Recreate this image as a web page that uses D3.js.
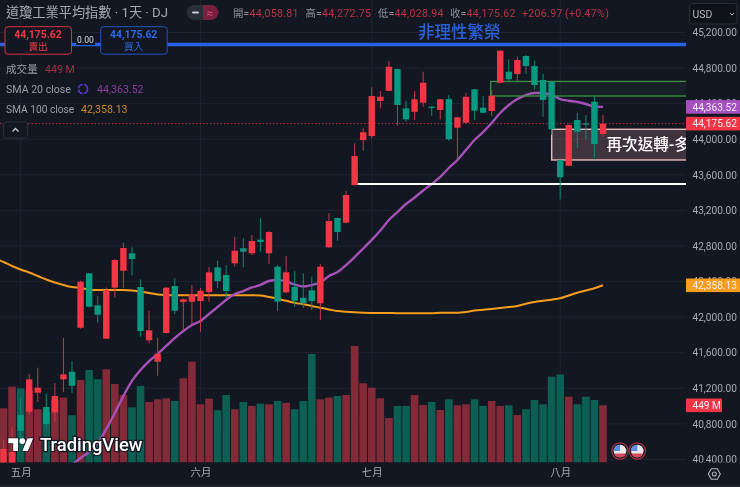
<!DOCTYPE html>
<html>
<head>
<meta charset="utf-8">
<script src="https://cdn.jsdelivr.net/npm/d3@7"></script>
<style>
    html, body { margin: 0; padding: 0; background: #131722; overflow: hidden; }
    text { font-family: Roboto, "Noto Sans CJK TC", sans-serif; }
    svg { display: block; filter: blur(0.3px); }
</style>
</head>
<body>
<svg></svg>
<script>
// Daily bars, one entry per trading day
let opens = [40360, 40360, 40900, 40937, 41151, 40990, 40930, 41301, 41387, 41881, 42493, 42133, 41758, 42331, 42522, 42718, 42339, 41740, 41499, 41822, 42350, 42170, 42174, 42181, 42283, 42560, 42474, 42605, 42774, 42718, 42871, 42718, 42567, 42279, 42339, 42219, 42302, 42156, 42785, 43115, 43062, 43485, 43991, 44036, 44430, 44545, 44789, 44348, 44309, 44411, 44366, 44329, 44452, 44130, 44186, 44561, 44355, 44317, 44635, 44759, 44733, 44936, 44823, 44666, 44647, 43766, 43702, 44216, 44177, 44422, 44058.81];
let closes = [40518, 40484, 40724, 41301, 41207, 40799, 41114, 41357, 41229, 42398, 42117, 42027, 42305, 42642, 42777, 42654, 41844, 41852, 41586, 42331, 42072, 42201, 42257, 42297, 42504, 42406, 42294, 42747, 42736, 42856, 42845, 42957, 42174, 42504, 42185, 42156, 42181, 42567, 43081, 42957, 43373, 43811, 44078, 44486, 44478, 44815, 44385, 44224, 44449, 44635, 44355, 44449, 44000, 44247, 44478, 44321, 44298, 44489, 44995, 44674, 44891, 44823, 44610, 44441, 44112, 43572, 44160, 44085, 44171, 43946, 44175.62];
let highs = [40619, 40765, 41091, 41361, 41432, 41144, 41260, 41766, 41507, 42410, 42495, 42238, 42335, 42654, 42837, 42788, 42425, 42072, 41773, 42340, 42437, 42210, 42361, 42328, 42560, 42634, 42586, 42904, 42886, 42923, 43111, 42965, 42586, 42687, 42522, 42493, 42455, 42594, 43167, 43120, 43418, 43954, 44123, 44584, 44542, 44879, 44795, 44430, 44542, 44759, 44374, 44455, 44497, 44252, 44523, 44565, 44486, 44553, 45000, 44898, 44928, 44945, 44883, 44733, 44650, 43770, 44165, 44298, 44272, 44486, 44272.75];
let lows = [40360, 40360, 40619, 40911, 41049, 40754, 40821, 41159, 41147, 41870, 42110, 41938, 41754, 42219, 42328, 42470, 41780, 41706, 41342, 41815, 42032, 41855, 41912, 41836, 42174, 42328, 42212, 42567, 42560, 42699, 42736, 42597, 42069, 42270, 42117, 42106, 42080, 41968, 42780, 42859, 43055, 43480, 43871, 44010, 44348, 44540, 44152, 44197, 44216, 44366, 44261, 44224, 43983, 43774, 44180, 44216, 44290, 44264, 44630, 44647, 44658, 44733, 44561, 44253, 44048, 43325, 43700, 43905, 44000, 43792, 44028.94];
// Volume in millions
let volumes = [425, 595, 582, 569, 418, 396, 491, 509, 371, 648, 726, 653, 732, 616, 530, 433, 601, 475, 496, 504, 483, 661, 791, 457, 501, 410, 530, 418, 475, 444, 462, 457, 483, 469, 418, 483, 852, 496, 509, 522, 530, 915, 622, 587, 504, 349, 444, 444, 530, 451, 475, 412, 496, 449, 457, 496, 444, 483, 444, 449, 373, 418, 491, 457, 674, 692, 517, 457, 517, 491, 449];

// SMA 20 starts at bar 8, SMA 100 starts one bar left of the window
let sma20Start = 8;
let sma20 = [40338, 40417, 40484, 40585, 40743, 40923, 41114, 41283, 41406, 41507, 41586, 41676, 41766, 41845, 41912, 41957, 42036, 42114, 42193, 42260, 42294, 42334, 42362, 42407, 42418, 42401, 42367, 42345, 42362, 42390, 42463, 42508, 42586, 42676, 42772, 42868, 42974, 43092, 43182, 43272, 43345, 43424, 43497, 43576, 43677, 43767, 43879, 43992, 44081, 44183, 44295, 44385, 44452, 44497, 44520, 44520, 44497, 44452, 44433, 44419, 44396, 44368, 44363.52];
let sma100Start = -1;
let sma100 = [42660, 42620, 42575, 42536, 42502, 42463, 42423, 42390, 42362, 42339, 42328, 42311, 42305, 42305, 42305, 42305, 42300, 42289, 42272, 42255, 42249, 42247, 42246, 42246, 42246, 42246, 42246, 42246, 42246, 42246, 42246, 42244, 42227, 42207, 42184, 42162, 42145, 42126, 42105, 42086, 42069, 42060, 42054, 42050, 42048, 42047, 42046, 42045, 42044, 42044, 42044, 42044, 42050, 42050, 42050, 42058, 42074, 42084, 42093, 42103, 42114, 42126, 42151, 42170, 42184, 42197, 42212, 42244, 42275, 42300, 42325, 42358.13];

// Axis labels
let priceTicks = [45200, 44800, 44400, 44000, 43600, 43200, 42800, 42400, 42000, 41600, 41200, 40800, 40400];
let monthBars = [2, 23, 43, 65];
let monthLabels = ['五月', '六月', '七月', '八月'];

// Drawn levels and boxes (prices)
let blueLevel = 45065;
let whiteLevel = 43497, whiteLevelBar = 41;
let greenBox = [490.7, 44650, 44486];
let pinkBox = [551.7, 44112, 43767];

// Dimensions
let width = 740, height = 487, plotRight = 686, plotBottom = 462.5;

let svg = d3.select('svg').attr('width', width).attr('height', height);
let fmt = d3.format(',.2f');

// Scales
let xScale = d3.scaleLinear().domain([0, 70]).range([3.5, 603]);
let yScale = d3.scaleLinear().domain([40400, 45200]).range([459.5, 32.5]);
let volScale = d3.scaleLinear().domain([0, 449]).range([plotBottom, 405.3]);

let bars = opens.map((o, i) => ({ i: i, o: o, c: closes[i], h: highs[i], l: lows[i], v: volumes[i] }));
let upColor = '#f23645', downColor = '#089981';

svg.append('rect').attr('width', width).attr('height', height).attr('fill', '#131722');

let defs = svg.append('defs');
defs.append('clipPath').attr('id', 'plot').append('rect')
    .attr('width', plotRight).attr('height', plotBottom);
defs.append('clipPath').attr('id', 'priceAxis').append('rect')
    .attr('x', plotRight).attr('width', width - plotRight).attr('height', plotBottom);

// Grid
function drawGrid() {
    let grid = svg.append('g').attr('stroke', '#1f2430').attr('stroke-width', 1);
    grid.selectAll('.h').data(priceTicks).enter().append('line')
        .attr('x1', 0).attr('x2', plotRight)
        .attr('y1', (d) => yScale(d)).attr('y2', (d) => yScale(d));
    grid.selectAll('.v').data(monthBars).enter().append('line')
        .attr('y1', 0).attr('y2', plotBottom)
        .attr('x1', (d) => xScale(d)).attr('x2', (d) => xScale(d));
}

// Volume columns, then the moving averages, then candles on top
function drawPlot() {
    let plot = svg.append('g').attr('clip-path', 'url(#plot)');

    plot.selectAll('.vol').data(bars).enter().append('rect')
        .attr('x', (d) => xScale(d.i) - 3.8)
        .attr('width', 7.6)
        .attr('y', (d) => volScale(d.v))
        .attr('height', (d) => plotBottom - volScale(d.v))
        .attr('fill', (d) => d.c >= d.o ? '#832a38' : '#0c5f52');

    plot.append('line')
        .attr('x1', 0).attr('x2', plotRight)
        .attr('y1', yScale(closes[70])).attr('y2', yScale(closes[70]))
        .attr('stroke', upColor).attr('stroke-width', 1)
        .attr('stroke-dasharray', '1.5 2').attr('opacity', 0.75);

    let line = (start) => d3.line()
        .x((d, i) => xScale(i + start))
        .y((d) => yScale(d))
        .curve(d3.curveMonotoneX);
    plot.append('path').datum(sma100).attr('d', line(sma100Start))
        .attr('fill', 'none').attr('stroke', '#f59d1c').attr('stroke-width', 2);
    plot.append('path').datum(sma20).attr('d', line(sma20Start))
        .attr('fill', 'none').attr('stroke', '#a750b8').attr('stroke-width', 2.4);

    // Zones and levels sit under the candles
    plot.append('rect')
        .attr('x', greenBox[0]).attr('width', plotRight + 2 - greenBox[0])
        .attr('y', yScale(greenBox[1])).attr('height', yScale(greenBox[2]) - yScale(greenBox[1]))
        .attr('fill', 'rgba(76,175,80,0.07)').attr('stroke', '#3f8f45').attr('stroke-width', 1.3);
    plot.append('rect')
        .attr('x', pinkBox[0]).attr('width', plotRight + 2 - pinkBox[0])
        .attr('y', yScale(pinkBox[1])).attr('height', yScale(pinkBox[2]) - yScale(pinkBox[1]))
        .attr('fill', 'rgba(242,170,170,0.2)').attr('stroke', '#e8bcbc').attr('stroke-width', 1.4);
    plot.append('line').attr('x1', 0).attr('x2', plotRight)
        .attr('y1', yScale(blueLevel)).attr('y2', yScale(blueLevel))
        .attr('stroke', '#2962e8').attr('stroke-width', 3.4);
    plot.append('line').attr('x1', xScale(whiteLevelBar)).attr('x2', plotRight)
        .attr('y1', yScale(whiteLevel)).attr('y2', yScale(whiteLevel))
        .attr('stroke', '#ffffff').attr('stroke-width', 2);

    // Candles
    plot.selectAll('.wick').data(bars).enter().append('line')
        .attr('x1', (d) => xScale(d.i)).attr('x2', (d) => xScale(d.i))
        .attr('y1', (d) => yScale(d.h)).attr('y2', (d) => yScale(d.l))
        .attr('stroke', (d) => d.c >= d.o ? '#c43a48' : '#0b8a75').attr('stroke-width', 1);
    plot.selectAll('.body').data(bars).enter().append('rect')
        .attr('x', (d) => xScale(d.i) - 3.2)
        .attr('width', 6.4)
        .attr('y', (d) => yScale(Math.max(d.o, d.c)))
        .attr('height', (d) => Math.max(1.2, Math.abs(yScale(d.o) - yScale(d.c))))
        .attr('fill', (d) => d.c >= d.o ? upColor : downColor);

    plot.append('text').attr('x', 418).attr('y', 38)
        .attr('fill', '#2a62dc').attr('font-size', 16.5).attr('font-weight', 500)
        .text('非理性繁榮');
    plot.append('text').attr('x', 606.5).attr('y', 150)
        .attr('fill', '#ffffff').attr('font-size', 15.6).attr('font-weight', 500)
        .text('再次返轉-多');
}

// Axes
function drawAxes() {
    let yAxis = d3.axisRight(yScale).tickValues(priceTicks).tickSize(0).tickPadding(6.5)
        .tickFormat((d) => fmt(d));
    let yG = svg.append('g')
        .attr('clip-path', 'url(#priceAxis)')
        .append('g')
        .attr('transform', `translate(${plotRight}, 0)`)
        .call(yAxis);
    yG.select('.domain').remove();
    yG.selectAll('text').attr('fill', '#a9acb6').attr('font-size', 10.1);

    let xAxis = d3.axisBottom(xScale).tickValues(monthBars).tickSize(0).tickPadding(6)
        .tickFormat((d, i) => monthLabels[i]);
    let xG = svg.append('g')
        .attr('transform', `translate(0, ${plotBottom})`)
        .call(xAxis);
    xG.select('.domain').remove();
    xG.selectAll('text').attr('fill', '#a9acb6').attr('font-size', 10.4);
}

// Coloured price tags on the right scale
function tag(text, color, y, w) {
    svg.append('rect').attr('x', plotRight).attr('y', y - 6.8).attr('width', w).attr('height', 13.6)
        .attr('fill', color);
    svg.append('text').attr('x', plotRight + 6.5).attr('y', y + 3.6)
        .attr('fill', '#f5eef5').attr('font-size', 10.1).text(text);
}

// Header, legend and small controls
function drawOverlay() {
    let label = (x, y, t, fill, size, weight) => svg.append('text')
        .attr('x', x).attr('y', y).attr('fill', fill)
        .attr('font-size', size || 10.5).attr('font-weight', weight || 400).text(t);

    label(6, 17, '道瓊工業平均指數 · 1天 · DJ', '#a6a9b2', 13.2);

    // Toggle pill
    svg.append('rect').attr('x', 186.7).attr('y', 5).attr('width', 31.6).attr('height', 15).attr('rx', 7.5).attr('fill', '#2a2e39');
    svg.append('path').attr('d', 'M203 5h7.8a7.5 7.5 0 0 1 0 15H203z').attr('fill', '#7a1f3e');
    svg.append('rect').attr('x', 192).attr('y', 11.5).attr('width', 7).attr('height', 2).attr('rx', 1).attr('fill', '#c8cad0');
    label(206.5, 16.5, '≈', '#d8527a', 11);

    // OHLC line
    let ohlcLabels = ['開=', '高=', '低=', '收='];
    let ohlcValues = [opens[70], highs[70], lows[70], closes[70]];
    let ohlcX = [233, 305.5, 378, 450];
    ohlcLabels.forEach((t, i) => {
        label(ohlcX[i], 16.5, t, '#8f929b', 10.4);
        label(ohlcX[i] + 16.5, 16.5, fmt(ohlcValues[i]), '#b93342', 10.6).attr('letter-spacing', 0.3);
    });
    label(522, 16.5, '+206.97', '#b93342', 10.6).attr('letter-spacing', 0.3);
    label(565, 16.5, '(+0.47%)', '#b93342', 10.6).attr('letter-spacing', 0.3);

    // Sell / buy boxes
    [[5, '賣出', upColor, '#d9303f'], [100.7, '買入', '#2d6ae8', '#2455c0']].forEach((b) => {
        svg.append('rect').attr('x', b[0]).attr('y', 26.7).attr('width', 66.5).attr('height', 27.5).attr('rx', 3)
            .attr('fill', '#131722').attr('stroke', b[3]).attr('stroke-width', 1);
        label(b[0] + 33, 38.2, fmt(closes[70]), b[2], 10.4, 700).attr('text-anchor', 'middle');
        label(b[0] + 33, 50, b[1], b[2], 9.6).attr('text-anchor', 'middle');
    });
    svg.append('rect').attr('x', 76).attr('y', 35).attr('width', 19).attr('height', 10).attr('fill', '#131722');
    label(85.5, 43, '0.00', '#d5d7dc', 8.6).attr('text-anchor', 'middle');

    // Legend rows
    label(6, 73, '成交量', '#9a9da6', 10.6);
    label(45, 73, '449 M', '#a12f40', 10.6);
    label(6, 93, 'SMA 20 close', '#9a9da6', 10.6);
    svg.append('circle').attr('cx', 83).attr('cy', 89).attr('r', 4.5).attr('fill', 'none')
        .attr('stroke', '#5a34d8').attr('stroke-width', 1.6).attr('stroke-dasharray', '6 1.2');
    label(97, 93, fmt(sma20[sma20.length - 1]), '#873f9a', 10.6);
    label(6, 113, 'SMA 100 close', '#9a9da6', 10.2);
    label(81, 113, fmt(sma100[sma100.length - 1]), '#c9892a', 10.6);

    // Collapse button
    svg.append('rect').attr('x', 3.5).attr('y', 122).attr('width', 24).attr('height', 16).attr('rx', 2)
        .attr('fill', '#131722').attr('stroke', '#2a2e39');
    svg.append('path').attr('d', 'M12.5 131.5l3-3 3 3').attr('fill', 'none').attr('stroke', '#c8cad0').attr('stroke-width', 1.3);

    // Currency selector
    svg.append('rect').attr('x', 689.5).attr('y', 3.5).attr('width', 47.5).attr('height', 20.5).attr('rx', 3)
        .attr('fill', '#0f1219').attr('stroke', '#2a2e39');
    label(692.5, 17.5, 'USD', '#b2b5be', 10.4);
    svg.append('path').attr('d', 'M730 13l2 2 2-2').attr('fill', 'none').attr('stroke', '#b2b5be');

    // Logo
    let logo = svg.append('g').attr('transform', 'translate(8.3, 435.5) scale(0.7)');
    logo.append('path').attr('d', 'M14 22H7V11H0V4h14v18zM28 22h-8l7.5-18h8L28 22z')
        .attr('fill', '#ffffff').attr('stroke', '#131722').attr('stroke-width', 2).attr('paint-order', 'stroke');
    logo.append('circle').attr('cx', 20).attr('cy', 8).attr('r', 4).attr('fill', '#ffffff');
    label(40, 451, 'TradingView', '#ffffff', 18.4, 500)
        .attr('stroke', '#131722').attr('stroke-width', 2.5).attr('paint-order', 'stroke');

    // Event flags
    [620, 637.3].forEach((cx) => {
        let f = svg.append('g').attr('transform', `translate(${cx}, 451)`);
        f.append('circle').attr('r', 8.2).attr('fill', '#131722').attr('stroke', '#a9303c').attr('stroke-width', 1.2);
        f.append('circle').attr('r', 6.3).attr('fill', '#e7e9ef');
        f.append('path').attr('d', 'M-6.3 0A6.3 6.3 0 0 1 0 -6.3V0z').attr('fill', '#5b8ee6');
        f.append('path').attr('d', 'M-5.8 2.4H5.8A6.3 6.3 0 0 1 -5.8 2.4z').attr('fill', '#d8485a');
    });

    // Settings icon
    let gear = svg.append('g').attr('transform', 'translate(714.3, 474)')
        .attr('fill', 'none').attr('stroke', '#b2b5be').attr('stroke-width', 1.1);
    gear.append('path').attr('d', 'M-6 0L-3 -5.2H3L6 0L3 5.2H-3z');
    gear.append('circle').attr('r', 2);

    // Bottom edge
    svg.append('rect').attr('y', 485).attr('width', width).attr('height', 2).attr('fill', '#23262e');
}

drawGrid();
drawPlot();
drawAxes();
tag(fmt(sma20[sma20.length - 1]), '#a64fc0', yScale(sma20[sma20.length - 1]), 54);
tag(fmt(closes[70]), '#f23645', yScale(closes[70]), 54);
tag(fmt(sma100[sma100.length - 1]), '#f59d1c', yScale(sma100[sma100.length - 1]), 54);
// Volume tag on the right scale
tag('449 M', '#f23645', volScale(volumes[70]), 36);
drawOverlay();
</script>
</body>
</html>
